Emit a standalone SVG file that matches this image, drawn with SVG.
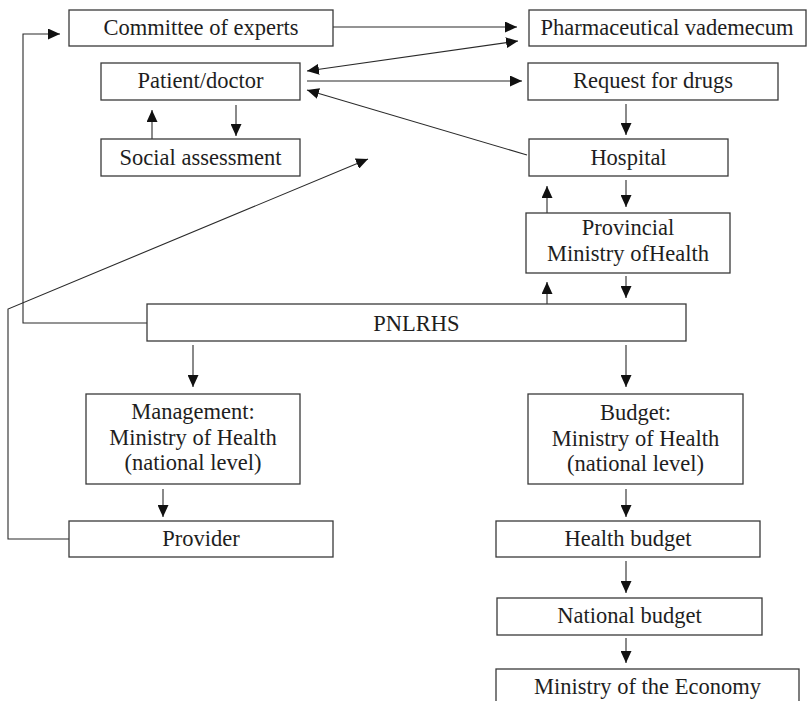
<svg xmlns="http://www.w3.org/2000/svg" width="809" height="701" viewBox="0 0 809 701">
<style>
.b{fill:#fff;stroke:#3a3a3a;stroke-width:1.3}
.t{font-family:'Liberation Serif','Times New Roman',Times,'DejaVu Serif',serif;font-size:22.5px;fill:#1e1e1e;text-anchor:middle}
.c{fill:none;stroke:#2a2a2a;stroke-width:1.1}
</style>
<defs>
<marker id="ah" viewBox="0 0 12 11" refX="12" refY="5.5" markerWidth="12" markerHeight="11" markerUnits="userSpaceOnUse" orient="auto-start-reverse">
<path d="M0,0 L12,5.5 L0,11 z" fill="#111"/>
</marker>
</defs>
<rect width="809" height="701" fill="#fff"/>
<g id="connectors">
<path class="c" d="M333,27 H517" marker-end="url(#ah)"/>
<path class="c" d="M307,71 L518,41" marker-start="url(#ah)" marker-end="url(#ah)"/>
<path class="c" d="M307,81 H522" marker-end="url(#ah)"/>
<path class="c" d="M527,155 L307,90" marker-end="url(#ah)"/>
<path class="c" d="M152,139 V110" marker-end="url(#ah)"/>
<path class="c" d="M236,105 V136" marker-end="url(#ah)"/>
<path class="c" d="M626,104 V135" marker-end="url(#ah)"/>
<path class="c" d="M626,180 V207" marker-end="url(#ah)"/>
<path class="c" d="M547,213 V186" marker-end="url(#ah)"/>
<path class="c" d="M547,304 V282" marker-end="url(#ah)"/>
<path class="c" d="M626,276 V298" marker-end="url(#ah)"/>
<path class="c" d="M147,323 H23 V34 H60" marker-end="url(#ah)"/>
<path class="c" d="M70,539 H8 V309 L368,159" marker-end="url(#ah)"/>
<path class="c" d="M193,345 V387" marker-end="url(#ah)"/>
<path class="c" d="M626,345 V387" marker-end="url(#ah)"/>
<path class="c" d="M163,489 V517" marker-end="url(#ah)"/>
<path class="c" d="M626,489 V517" marker-end="url(#ah)"/>
<path class="c" d="M626,561 V593" marker-end="url(#ah)"/>
<path class="c" d="M626,638 V663" marker-end="url(#ah)"/>
</g>
<g id="committee"><rect class="b" x="69" y="10" width="264" height="36"/><text class="t" x="201" y="35">Committee of experts</text></g>
<g id="vademecum"><rect class="b" x="529" y="10" width="277" height="36"/><text class="t" x="667" y="35">Pharmaceutical vademecum</text></g>
<g id="patient"><rect class="b" x="101" y="63" width="199" height="37"/><text class="t" x="200.5" y="88">Patient/doctor</text></g>
<g id="request"><rect class="b" x="528" y="63" width="250" height="37"/><text class="t" x="653" y="88">Request for drugs</text></g>
<g id="social"><rect class="b" x="101" y="139" width="199" height="37"/><text class="t" x="200.5" y="165">Social assessment</text></g>
<g id="hospital"><rect class="b" x="529" y="139" width="199" height="37"/><text class="t" x="628.5" y="165">Hospital</text></g>
<g id="provincial"><rect class="b" x="526" y="213" width="204" height="60"/><text class="t" x="628" y="235">Provincial</text><text class="t" x="628" y="261">Ministry ofHealth</text></g>
<g id="pnlrhs"><rect class="b" x="147" y="304" width="539" height="37"/><text class="t" x="416.5" y="331">PNLRHS</text></g>
<g id="management"><rect class="b" x="86" y="394" width="214" height="90"/><text class="t" x="193" y="419">Management:</text><text class="t" x="193" y="445">Ministry of Health</text><text class="t" x="193" y="470">(national level)</text></g>
<g id="budget"><rect class="b" x="528" y="394" width="215" height="90"/><text class="t" x="635.5" y="420">Budget:</text><text class="t" x="635.5" y="446">Ministry of Health</text><text class="t" x="635.5" y="471">(national level)</text></g>
<g id="provider"><rect class="b" x="69" y="521" width="264" height="36"/><text class="t" x="201" y="546">Provider</text></g>
<g id="healthbudget"><rect class="b" x="496" y="521" width="264" height="36"/><text class="t" x="628" y="546">Health budget</text></g>
<g id="nationalbudget"><rect class="b" x="497" y="598" width="265" height="37"/><text class="t" x="629.5" y="623">National budget</text></g>
<g id="economy"><rect class="b" x="496" y="669" width="303" height="40"/><text class="t" x="647.5" y="694">Ministry of the Economy</text></g>
</svg>
